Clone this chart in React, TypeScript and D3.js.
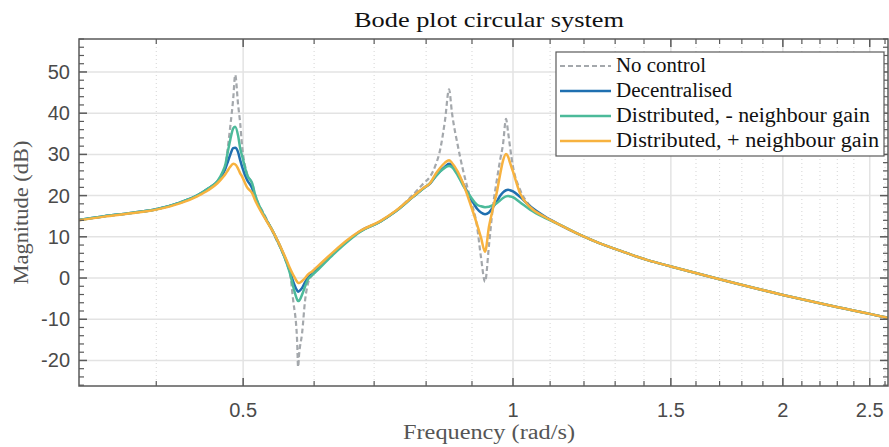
import React from "react";
import * as d3 from "d3";

const W = 889;
const H = 447;

// Frequency grid (rad/s)
const freq = [
  0.328, 0.35, 0.375, 0.4, 0.425, 0.445, 0.457, 0.468, 0.474, 0.478,
  0.48, 0.4837, 0.4874, 0.4899, 0.4936, 0.4962, 0.4987, 0.5051, 0.5117, 0.5156,
  0.5291, 0.54, 0.5598, 0.5641, 0.5685, 0.5743, 0.5758, 0.5773, 0.5818, 0.5863,
  0.5908, 0.5969, 0.6046, 0.63, 0.655, 0.675, 0.711, 0.74, 0.7735, 0.795,
  0.8081, 0.82, 0.8291, 0.8398, 0.8485, 0.855, 0.8682, 0.8795, 0.8955, 0.9118,
  0.9211, 0.9307, 0.9402, 0.95, 0.9597, 0.9672, 0.9747, 0.9822, 0.9873, 0.9923,
  1.0, 1.018, 1.045, 1.0856, 1.128, 1.19, 1.25, 1.33, 1.41, 1.5,
  1.7, 2.0, 2.25, 2.5, 2.62,
];

const noControl = [
  14.1, 15.0, 15.8, 16.7, 18.3, 20.1, 21.7, 23.4, 25.2, 27.5,
  30.5, 36.7, 43.5, 49.3, 42.0, 37.6, 32.0, 25.3, 23.0, 20.3,
  15.0, 11.0, 3.2, 1.0, -5.3, -15.0, -21.6, -18.5, -13.3, -5.3,
  -1.2, 0.7, 2.2, 6.0, 9.2, 11.4, 13.7, 16.3, 20.2, 23.0,
  24.6, 27.5, 31.0, 38.3, 45.8, 40.0, 31.9, 26.2, 19.5, 12.5,
  5.0, -0.9, 8.0, 17.5, 24.0, 28.5, 32.5, 38.6, 35.5, 31.9,
  27.0, 21.5, 17.5, 14.8, 12.9, 10.4, 8.4, 6.3, 4.4, 2.8,
  -0.3, -4.1, -6.6, -8.7, -9.7,
];

const decentralised = [
  14.1, 15.0, 15.8, 16.7, 18.3, 20.1, 21.7, 23.4, 25.0, 26.7,
  27.8, 29.9, 31.5, 31.6, 30.5, 28.6, 27.0, 23.8, 21.8, 19.6,
  14.6, 11.2, 3.6, 1.5, -0.8, -3.0, -3.3, -3.2, -2.4, -1.0,
  0.2, 1.0, 2.2, 6.0, 9.2, 11.3, 13.7, 16.2, 19.7, 21.8,
  22.9, 24.7, 25.9, 27.0, 27.7, 27.3, 25.2, 22.9, 19.7, 16.8,
  15.9, 15.5, 15.9, 17.2, 18.6, 19.9, 20.8, 21.3, 21.4, 21.3,
  21.0, 19.7, 17.4, 14.9, 12.9, 10.4, 8.4, 6.3, 4.4, 2.8,
  -0.3, -4.1, -6.6, -8.7, -9.7,
];

const distributedMinus = [
  14.1, 15.0, 15.8, 16.7, 18.3, 20.1, 21.7, 23.5, 25.6, 27.8,
  29.9, 33.5, 36.3, 36.7, 34.5, 31.5, 29.6, 25.0, 23.0, 20.2,
  14.7, 11.2, 3.3, 1.0, -2.0, -5.2, -5.6, -5.5, -4.0, -2.0,
  -0.3, 0.7, 1.8, 5.7, 9.0, 11.2, 13.7, 16.2, 19.7, 21.8,
  23.0, 24.7, 25.8, 26.8, 27.2, 26.9, 24.8, 22.5, 19.9, 17.8,
  17.4, 17.2, 17.3, 17.7, 18.2, 18.8, 19.4, 19.8, 19.9, 19.8,
  19.6, 18.4, 16.6, 14.6, 12.9, 10.4, 8.4, 6.3, 4.4, 2.8,
  -0.3, -4.1, -6.6, -8.7, -9.7,
];

const distributedPlus = [
  14.0, 14.9, 15.7, 16.6, 18.1, 19.9, 21.3, 23.0, 24.3, 25.3,
  25.9, 27.0, 27.7, 27.6, 26.5, 25.4, 24.6, 22.0, 20.6, 18.9,
  14.4, 11.2, 4.0, 2.3, 0.8, -0.9, -1.2, -1.2, -0.7, 0.0,
  0.9, 1.6, 2.7, 6.3, 9.4, 11.4, 13.8, 16.3, 19.8, 21.9,
  23.0, 25.3, 26.7, 28.0, 28.6, 27.9, 25.7, 23.0, 18.2, 13.0,
  9.8, 6.4, 12.5, 17.0, 21.0, 25.0, 28.5, 30.1, 29.5, 28.0,
  25.8, 20.6, 17.2, 14.8, 12.9, 10.4, 8.4, 6.3, 4.4, 2.8,
  -0.3, -4.1, -6.6, -8.7, -9.7,
];

const seriesNames = [
  "No control",
  "Decentralised",
  "Distributed, - neighbour gain",
  "Distributed, + neighbour gain",
];
const seriesColors = ["#a4a8ac", "#1f6fb0", "#4cba9a", "#f7b23f"];

const xMajorTicks = [0.5, 1, 1.5, 2, 2.5];
const xMajorLabels = ["0.5", "1", "1.5", "2", "2.5"];
const xMinorTicks = [
  0.4, 0.6, 0.7, 0.8, 0.9, 1.1, 1.2, 1.3, 1.4, 1.6, 1.7, 1.8, 1.9, 2.1, 2.2,
  2.3, 2.4, 2.6,
];
const yMajorTicks = [-20, -10, 0, 10, 20, 30, 40, 50];
const yMinorTicks = [
  -26, -24, -22, -18, -16, -14, -12, -8, -6, -4, -2, 2, 4, 6, 8, 12, 14, 16,
  18, 22, 24, 26, 28, 32, 34, 36, 38, 42, 44, 46, 48, 52, 54, 56, 58,
];

const L = 79;
const R = 888;
const T = 39;
const B = 386;

export default function App() {
  const x = d3.scaleLog().domain([0.328, 2.62]).range([L, R]);
  const y = d3.scaleLinear().domain([-26.2, 58]).range([B, T]);
  const allSeries = [noControl, decentralised, distributedMinus, distributedPlus];

  const line = d3
    .line<[number, number]>()
    .x((d) => x(d[0]))
    .y((d) => y(d[1]))
    .curve(d3.curveMonotoneX);

  const axisColor = "#5a5a5a";
  const tickFont = "'Liberation Sans', Arial, sans-serif";
  const serif = "'Liberation Serif', 'DejaVu Serif', serif";

  const legX = 556;
  const legY = 52;
  const legW = 328;
  const legH = 104;
  const rowY = [66, 91, 116, 141];
  const legTextLen = [90, 116, 254, 263];
  const labelCenter = 489;

  return (
    <svg
      width={W}
      height={H}
      style={{ position: "absolute", left: 0, top: 0, background: "#fff" }}
    >
      <defs>
        <clipPath id="plotclip">
          <rect x={L} y={T} width={R - L} height={B - T} />
        </clipPath>
      </defs>
      <rect x={0} y={0} width={W} height={H} fill="#fff" />
      {/* grid */}
      {xMinorTicks.map((t) => (
        <line
          key={"gxm" + t}
          x1={x(t)}
          x2={x(t)}
          y1={T}
          y2={B}
          stroke="#d4d4d4"
          strokeWidth={1}
          strokeDasharray="1,3"
        />
      ))}
      {xMajorTicks.map((t) => (
        <line
          key={"gx" + t}
          x1={x(t)}
          x2={x(t)}
          y1={T}
          y2={B}
          stroke="#e3e3e3"
          strokeWidth={1.5}
        />
      ))}
      {yMajorTicks.map((t) => (
        <line
          key={"gy" + t}
          x1={L}
          x2={R}
          y1={y(t)}
          y2={y(t)}
          stroke="#e3e3e3"
          strokeWidth={1.5}
        />
      ))}
      {/* curves */}
      <g clipPath="url(#plotclip)">
        {allSeries.map((vals, i) => (
          <path
            key={"s" + i}
            d={line(freq.map((f, j) => [f, vals[j]] as [number, number])) || ""}
            fill="none"
            stroke={seriesColors[i]}
            strokeWidth={i === 0 ? 2.2 : 2.5}
            strokeDasharray={i === 0 ? "5,3" : undefined}
            strokeLinejoin="round"
          />
        ))}
      </g>
      {/* axes box */}
      <rect
        x={L}
        y={T}
        width={R - L}
        height={B - T}
        fill="none"
        stroke={axisColor}
        strokeWidth={1.5}
      />
      {/* x ticks */}
      {xMajorTicks.map((t) => (
        <g key={"xt" + t}>
          <line x1={x(t)} x2={x(t)} y1={B} y2={B - 8} stroke={axisColor} strokeWidth={1.5} />
          <line x1={x(t)} x2={x(t)} y1={T} y2={T + 8} stroke={axisColor} strokeWidth={1.5} />
        </g>
      ))}
      {xMinorTicks.map((t) => (
        <g key={"xmt" + t}>
          <line x1={x(t)} x2={x(t)} y1={B} y2={B - 5} stroke={axisColor} strokeWidth={1.2} />
          <line x1={x(t)} x2={x(t)} y1={T} y2={T + 5} stroke={axisColor} strokeWidth={1.2} />
        </g>
      ))}
      {xMajorTicks.map((t, i) => (
        <text
          key={"xl" + t}
          x={x(t)}
          y={417}
          textAnchor="middle"
          fontFamily={tickFont}
          fontSize={20}
          fill="#4a4a4a"
        >
          {xMajorLabels[i]}
        </text>
      ))}
      {/* y ticks */}
      {yMajorTicks.map((t) => (
        <g key={"yt" + t}>
          <line x1={L} x2={L + 8} y1={y(t)} y2={y(t)} stroke={axisColor} strokeWidth={1.5} />
          <line x1={R} x2={R - 8} y1={y(t)} y2={y(t)} stroke={axisColor} strokeWidth={1.5} />
        </g>
      ))}
      {yMinorTicks.map((t) => (
        <g key={"ymt" + t}>
          <line x1={L} x2={L + 5} y1={y(t)} y2={y(t)} stroke={axisColor} strokeWidth={1.2} />
          <line x1={R} x2={R - 5} y1={y(t)} y2={y(t)} stroke={axisColor} strokeWidth={1.2} />
        </g>
      ))}
      {yMajorTicks.map((t) => (
        <text
          key={"yl" + t}
          x={70}
          y={y(t) + 7}
          textAnchor="end"
          fontFamily={tickFont}
          fontSize={20}
          fill="#4a4a4a"
        >
          {String(t)}
        </text>
      ))}
      {/* labels */}
      <text
        x={labelCenter - 135}
        y={27}
        fontFamily={serif}
        fontSize={22}
        fill="#111"
        textLength={270}
        lengthAdjust="spacingAndGlyphs"
      >
        Bode plot circular system
      </text>
      <text
        x={labelCenter - 86}
        y={439}
        fontFamily={serif}
        fontSize={20}
        fill="#555"
        textLength={172}
        lengthAdjust="spacingAndGlyphs"
      >
        Frequency (rad/s)
      </text>
      <text
        transform={`translate(28, ${(T + B) / 2 + 72}) rotate(-90)`}
        fontFamily={serif}
        fontSize={20}
        fill="#555"
        textLength={144}
        lengthAdjust="spacingAndGlyphs"
      >
        Magnitude (dB)
      </text>
      {/* legend */}
      <rect
        x={legX}
        y={legY}
        width={legW}
        height={legH}
        fill="#fff"
        stroke={axisColor}
        strokeWidth={1.2}
      />
      {seriesNames.map((name, i) => (
        <g key={"lg" + i}>
          <line
            x1={560}
            x2={611}
            y1={rowY[i]}
            y2={rowY[i]}
            stroke={seriesColors[i]}
            strokeWidth={i === 0 ? 2.2 : 2.5}
            strokeDasharray={i === 0 ? "5,3" : undefined}
          />
          <text
            x={616}
            y={rowY[i] + 6}
            fontFamily={serif}
            fontSize={20}
            fill="#111"
            textLength={legTextLen[i]}
            lengthAdjust="spacingAndGlyphs"
          >
            {name}
          </text>
        </g>
      ))}
    </svg>
  );
}
